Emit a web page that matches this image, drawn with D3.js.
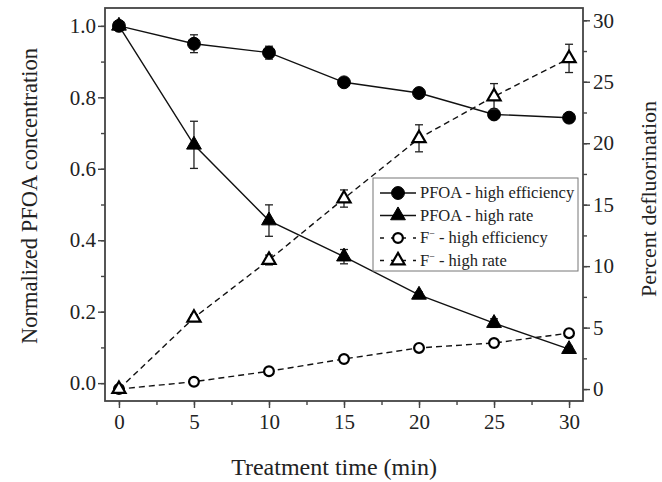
<!DOCTYPE html>
<html>
<head>
<meta charset="utf-8">
<script src="https://cdn.jsdelivr.net/npm/d3@7"></script>
<style>
  body { margin: 0; background: #fff; }
  svg text { font-family: "Liberation Serif", "DejaVu Serif", serif; fill: #222; }
</style>
</head>
<body>
<div id="chart"></div>
<script>
// treatment times
var times = [0, 5, 10, 15, 20, 25, 30];

// normalized PFOA concentration (left axis)
var pfoaEff = [1.0, 0.95, 0.925, 0.842, 0.812, 0.752, 0.743];
var pfoaEffErr = [0.008, 0.025, 0.018, 0.008, 0.01, 0.01, 0.006];
var pfoaRate = [1.0, 0.667, 0.455, 0.354, 0.247, 0.168, 0.095];
var pfoaRateErr = [0.008, 0.066, 0.044, 0.02, 0.008, 0.012, 0.008];

// percent defluorination (right axis)
var fEff = [0, 0.6, 1.45, 2.45, 3.35, 3.75, 4.55];
var fEffErr = [0.1, 0.15, 0.15, 0.15, 0.2, 0.2, 0.2];
var fRate = [0, 5.8, 10.5, 15.5, 20.4, 23.8, 26.9];
var fRateErr = [0.1, 0.25, 0.4, 0.7, 1.1, 1.05, 1.15];

var xTicks = [0, 5, 10, 15, 20, 25, 30];
var leftTicks = [0, 0.2, 0.4, 0.6, 0.8, 1.0];
var rightTicks = [0, 5, 10, 15, 20, 25, 30];

var legendNames = ["PFOA - high efficiency", "PFOA - high rate", "F", "F"];
var legendSuffix = ["", "", " - high efficiency", " - high rate"];

var w = 662, h = 482;
var plotL = 105, plotR = 583, plotT = 8, plotB = 401;

var svg = d3.select("#chart").append("svg")
    .attr("width", w)
    .attr("height", h);

var x = d3.scaleLinear().domain([-0.93, 30.93]).range([plotL, plotR]);
var yL = d3.scaleLinear().domain([-0.05, 1.05]).range([plotB, plotT]);
var yR = d3.scaleLinear().domain([-0.97, 31]).range([plotB, plotT]);

// axes
var tickColor = "#444";
function styleAxis(g) {
    g.select(".domain").remove();
    g.selectAll("line").attr("stroke", tickColor).attr("stroke-width", 1.4);
    g.selectAll("text").attr("font-size", "21px").attr("fill", "#222");
}

svg.append("g")
    .attr("transform", "translate(0," + plotB + ")")
    .call(d3.axisBottom(x).tickValues(d3.range(0, 31, 2.5)).tickSize(4).tickFormat(""))
    .call(styleAxis);
svg.append("g")
    .attr("transform", "translate(0," + plotB + ")")
    .call(d3.axisBottom(x).tickValues(xTicks).tickSize(7).tickPadding(6).tickFormat(d3.format("d")))
    .call(styleAxis);

svg.append("g")
    .attr("transform", "translate(" + plotL + ",0)")
    .call(d3.axisLeft(yL).tickValues(d3.range(0, 1.01, 0.1)).tickSize(4).tickFormat(""))
    .call(styleAxis);
svg.append("g")
    .attr("transform", "translate(" + plotL + ",0)")
    .call(d3.axisLeft(yL).tickValues(leftTicks).tickSize(7).tickPadding(2).tickFormat(d3.format(".1f")))
    .call(styleAxis);

svg.append("g")
    .attr("transform", "translate(" + plotR + ",0)")
    .call(d3.axisRight(yR).tickValues(d3.range(0, 31, 2.5)).tickSize(4).tickFormat(""))
    .call(styleAxis);
svg.append("g")
    .attr("transform", "translate(" + plotR + ",0)")
    .call(d3.axisRight(yR).tickValues(rightTicks).tickSize(7).tickPadding(3).tickFormat(d3.format("d")))
    .call(styleAxis);

// frame
svg.append("rect")
    .attr("x", plotL).attr("y", plotT)
    .attr("width", plotR - plotL).attr("height", plotB - plotT)
    .attr("fill", "none").attr("stroke", "#444").attr("stroke-width", 1.8);

// axis titles
svg.append("text")
    .attr("transform", "translate(37,196) rotate(-90)")
    .attr("text-anchor", "middle")
    .attr("font-size", "22.5px")
    .text("Normalized PFOA concentration");
svg.append("text")
    .attr("transform", "translate(656,199) rotate(-90)")
    .attr("text-anchor", "middle")
    .attr("font-size", "22px")
    .text("Percent defluorination");
svg.append("text")
    .attr("x", 334).attr("y", 475)
    .attr("text-anchor", "middle")
    .attr("font-size", "24px")
    .text("Treatment time (min)");

// series
var series = [
    { vals: pfoaEff, err: pfoaEffErr, y: yL, dash: null, shape: d3.symbolCircle, size: 130, fill: "#000" },
    { vals: pfoaRate, err: pfoaRateErr, y: yL, dash: null, shape: d3.symbolTriangle, size: 95, fill: "#000" },
    { vals: fEff, err: fEffErr, y: yR, dash: "6,4", shape: d3.symbolCircle, size: 75, fill: "#fff" },
    { vals: fRate, err: fRateErr, y: yR, dash: "6,4", shape: d3.symbolTriangle, size: 75, fill: "#fff" }
];

series.forEach(function(s) {
    var pts = times.map(function(t, i) { return [t, s.vals[i], s.err[i]]; });
    var line = d3.line()
        .x(function(d) { return x(d[0]); })
        .y(function(d) { return s.y(d[1]); });
    svg.append("path")
        .datum(pts)
        .attr("d", line)
        .attr("fill", "none")
        .attr("stroke", "#111")
        .attr("stroke-width", 1.4)
        .attr("stroke-dasharray", s.dash);

    var eb = svg.append("g").attr("stroke", "#222").attr("stroke-width", 1.3);
    eb.selectAll("line.v").data(pts).enter().append("line")
        .attr("x1", function(d) { return x(d[0]); })
        .attr("x2", function(d) { return x(d[0]); })
        .attr("y1", function(d) { return s.y(d[1] - d[2]); })
        .attr("y2", function(d) { return s.y(d[1] + d[2]); });
    [1, -1].forEach(function(sign) {
        eb.selectAll("line.c" + sign).data(pts).enter().append("line")
            .attr("x1", function(d) { return x(d[0]) - 4; })
            .attr("x2", function(d) { return x(d[0]) + 4; })
            .attr("y1", function(d) { return s.y(d[1] + sign * d[2]); })
            .attr("y2", function(d) { return s.y(d[1] + sign * d[2]); });
    });

    svg.selectAll(null).data(pts).enter().append("path")
        .attr("d", d3.symbol().type(s.shape).size(s.size))
        .attr("transform", function(d) { return "translate(" + x(d[0]) + "," + s.y(d[1]) + ")"; })
        .attr("fill", s.fill)
        .attr("stroke", "#000")
        .attr("stroke-width", s.fill === "#fff" ? 2.2 : 1);
});

// legend
var lg = svg.append("g").attr("transform", "translate(373,178)");
lg.append("rect")
    .attr("width", 205).attr("height", 93)
    .attr("fill", "#fff").attr("stroke", "#777").attr("stroke-width", 1);
series.forEach(function(s, i) {
    var yy = 15 + i * 22.5;
    lg.append("line")
        .attr("x1", 7).attr("x2", 43).attr("y1", yy).attr("y2", yy)
        .attr("stroke", "#111").attr("stroke-width", 1.4)
        .attr("stroke-dasharray", s.dash ? "4,7" : null);
    lg.append("path")
        .attr("d", d3.symbol().type(s.shape).size(s.size))
        .attr("transform", "translate(25," + yy + ")")
        .attr("fill", s.fill).attr("stroke", "#000")
        .attr("stroke-width", s.fill === "#fff" ? 2.2 : 1);
    var t = lg.append("text")
        .attr("x", 47).attr("y", yy + 5)
        .attr("font-size", "16.5px");
    t.append("tspan").text(legendNames[i]);
    if (i >= 2) {
        t.append("tspan").attr("dy", -6).attr("font-size", "10px").text("−");
        t.append("tspan").attr("dy", 6).text(legendSuffix[i]);
    }
});
</script>
</body>
</html>
